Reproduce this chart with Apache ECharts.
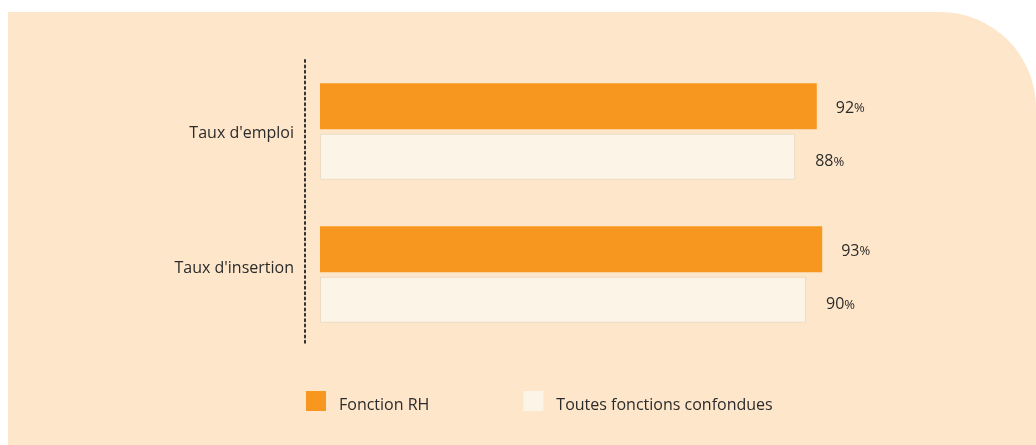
<!DOCTYPE html>
<html>
<head>
<meta charset="utf-8">
<script src="https://cdn.jsdelivr.net/npm/echarts@6/dist/echarts.min.js"></script>
<style>
  html, body { margin: 0; padding: 0; background: #ffffff; }
  #chart { width: 1036px; height: 445px; }
</style>
</head>
<body>
<div id="chart"></div>
<script>
const categories = ["Taux d'emploi", "Taux d'insertion"]
const seriesNames = ['Fonction RH', 'Toutes fonctions confondues']
const fonctionRH = [92, 93]
const toutesFonctions = [88, 90]

const chart = echarts.init(document.getElementById('chart'))
const font = 'Open Sans'
const textColor = '#2b2b2b'
const valueLabel = {
  show: true,
  position: 'right',
  distance: 19,
  formatter: function (p) {
    return '{n|' + p.value + '}{p|%}'
  },
  rich: {
    n: { fontFamily: font, fontSize: 16, color: textColor },
    p: { fontFamily: font, fontSize: 13, color: textColor },
  },
}

const option = {
  animation: false,
  backgroundColor: '#ffffff',
  graphic: [
    {
      type: 'rect',
      z: -10,
      shape: { x: 8, y: 12, width: 1028, height: 433, r: [0, 96, 0, 0] },
      style: { fill: '#fee6ca' },
    },
  ],
  legend: {
    left: 306,
    top: 391,
    padding: 0,
    itemWidth: 20,
    itemHeight: 20,
    itemGap: 94,
    icon: 'rect',
    itemStyle: { borderWidth: 0 },
    formatter: function (name) {
      return '{t|' + name + '}'
    },
    textStyle: {
      fontFamily: font,
      fontSize: 16,
      color: textColor,
      padding: [0, 0, 0, 8],
      rich: {
        t: { fontFamily: font, fontSize: 16, color: textColor, padding: [8, 0, 0, 0] },
      },
    },
    data: seriesNames,
  },
  grid: {
    left: 320,
    top: 60,
    height: 286,
    width: 540,
  },
  xAxis: {
    type: 'value',
    min: 0,
    max: 100,
    show: false,
  },
  yAxis: {
    type: 'category',
    inverse: true,
    data: categories,
    offset: 15,
    axisTick: { show: false },
    axisLine: {
      show: true,
      onZero: false,
      lineStyle: { color: '#333333', width: 2, type: [2, 3.4] },
    },
    axisLabel: {
      margin: 11,
      color: textColor,
      formatter: function (v) {
        return v === categories[1] ? '{up|' + v + '}' : '{dn|' + v + '}'
      },
      rich: {
        up: { fontFamily: font, fontSize: 16, color: textColor, padding: [0, 0, 12, 0] },
        dn: { fontFamily: font, fontSize: 16, color: textColor, padding: [3, 0, 0, 0] },
      },
    },
  },
  series: [
    {
      name: seriesNames[0],
      type: 'bar',
      data: fonctionRH,
      barWidth: 46,
      barGap: '10%',
      itemStyle: { color: '#f8971f' },
      label: Object.assign({}, valueLabel, { offset: [0, 2] }),
    },
    {
      name: seriesNames[1],
      type: 'bar',
      data: toutesFonctions,
      barWidth: 46,
      itemStyle: { color: '#fdf4e8', borderColor: '#ecdcc6', borderWidth: 1 },
      label: Object.assign({}, valueLabel, { offset: [0, 5], distance: 20 }),
    },
  ],
}
chart.setOption(option)
</script>
</body>
</html>
